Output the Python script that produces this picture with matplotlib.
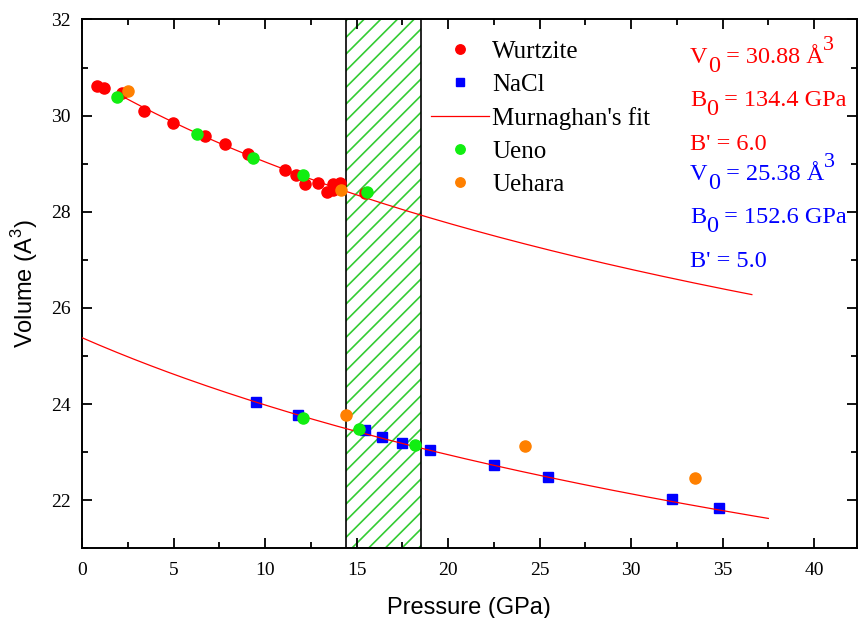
import numpy as np
import matplotlib
matplotlib.use("Agg")
import matplotlib.pyplot as plt

plt.rcParams['font.family'] = ['Liberation Serif', 'DejaVu Serif']
plt.rcParams['mathtext.fontset'] = 'custom'
plt.rcParams['mathtext.rm'] = 'Liberation Sans'
plt.rcParams['hatch.linewidth'] = 1.2

# DATOS
wz_p = [0.80, 1.22, 2.17, 3.40, 4.99, 6.72, 7.81, 9.09, 11.09, 11.68, 12.19,
        12.92, 13.37, 13.73, 13.70, 14.10, 15.46]
wz_v = [30.62, 30.58, 30.48, 30.10, 29.85, 29.58, 29.40, 29.20, 28.87, 28.76, 28.58,
        28.60, 28.42, 28.57, 28.45, 28.59, 28.38]

nacl_p = [9.51, 11.79, 15.46, 16.38, 17.47, 19.02, 22.53, 25.44, 32.24, 34.79]
nacl_v = [24.05, 23.77, 23.46, 23.32, 23.19, 23.04, 22.73, 22.49, 22.03, 21.83]

ueno_p = [1.93, 6.27, 9.33, 12.09, 15.56, 12.05, 15.14, 18.20]
ueno_v = [30.39, 29.62, 29.11, 28.77, 28.41, 23.72, 23.49, 23.15]

uehara_p = [2.50, 14.15, 14.43, 24.19, 33.51]
uehara_v = [30.52, 28.46, 23.77, 23.12, 22.46]

# Parametros de Murnaghan (V0, B0, B')
WZ_FIT = (30.88, 134.4, 6.0)
NACL_FIT = (25.38, 152.6, 5.0)
WZ_RANGE = (1.9, 36.6)
NACL_RANGE = (0.0, 37.5)

# Zona de transicion
TRANSITION = (14.4, 18.5)

# Colores
RED = "#ff0000"
BLUE = "#0000ff"
GREEN = "#11ee11"
ORANGE = "#ff8000"
HATCH_GREEN = "#33cc33"


def murnaghan(p, v0, b0, bp):
    return v0 * (1 + bp * p / b0) ** (-1.0 / bp)


def chained_text(ax, pieces, x, y, color):
    # cada pieza: (texto, desplazamiento vertical en puntos, tamaño)
    s, dy, fs = pieces[0]
    prev = ax.text(x, y, s, transform=ax.transAxes, color=color,
                   fontsize=fs, va='baseline', ha='left')
    for s, dy, fs in pieces[1:]:
        prev = ax.annotate(s, xy=(1, y), xycoords=(prev, 'axes fraction'),
                           xytext=(0, dy), textcoords='offset points',
                           color=color, fontsize=fs, va='baseline', ha='left')


fig = plt.figure(figsize=(8.58, 6.18), dpi=100)
ax = fig.add_axes([0.0956, 0.1128, 0.9029, 0.8557])

# zona rayada
ax.axvspan(*TRANSITION, facecolor='none', edgecolor=HATCH_GREEN, hatch='//',
           linewidth=0, zorder=1)
ax.axvspan(*TRANSITION, facecolor='none', edgecolor='black', linewidth=1.2, zorder=1.1)

ax.plot(wz_p, wz_v, 'o', color=RED, markersize=8, label='Wurtzite', zorder=3)
ax.plot(nacl_p, nacl_v, 's', color=BLUE, markersize=7.5, label='NaCl', zorder=3)

p_wz = np.linspace(*WZ_RANGE, 200)
p_nacl = np.linspace(*NACL_RANGE, 200)
ax.plot(p_wz, murnaghan(p_wz, *WZ_FIT), '-', color=RED, linewidth=0.9,
        label="Murnaghan's fit", zorder=3.5)
ax.plot(p_nacl, murnaghan(p_nacl, *NACL_FIT), '-', color=RED, linewidth=0.9, zorder=3.5)

ax.plot(ueno_p, ueno_v, 'o', color=GREEN, markersize=8, label='Ueno', zorder=4)
ax.plot(uehara_p, uehara_v, 'o', color=ORANGE, markersize=8, label='Uehara', zorder=4)

# ejes
ax.set_xlim(0, 42.33)
ax.set_ylim(21, 32)
ax.set_xticks(np.arange(0, 41, 5))
ax.set_xticks(np.arange(0, 42.4, 2.5), minor=True)
ax.set_yticks(np.arange(22, 33, 2))
ax.set_yticks(np.arange(21, 33, 1), minor=True)
ax.tick_params(which='both', direction='in', top=True, right=True, width=1.3,
               labelsize=14)
ax.tick_params(which='major', length=7, pad=8)
ax.tick_params(axis='x', which='major', pad=10)
ax.tick_params(which='minor', length=4)
for sp in ax.spines.values():
    sp.set_linewidth(1.4)

ax.set_xlabel("Pressure (GPa)", family='Liberation Sans', fontsize=17, labelpad=13)
ax.set_ylabel(r"Volume (A$^3$)", family='Liberation Sans', fontsize=17, labelpad=8)

ax.legend(loc='upper left', bbox_to_anchor=(0.4505, 0.96), frameon=False,
          borderpad=0, borderaxespad=0, handlelength=2.3, handletextpad=0.15,
          labelspacing=0.42, fontsize=18, markerscale=0.85)

# parametros del ajuste
FS = 17.5
tx = 0.785
chained_text(ax, [("V", 0, FS), ("0", -6.5, FS), (" = 30.88 Å", 0, FS), ("3", 9.4, 16)],
             tx, 0.918, RED)
chained_text(ax, [("B", 0, FS), ("0", -6.5, FS), (" = 134.4 GPa", 0, FS)],
             tx, 0.836, RED)
chained_text(ax, [("B' = 6.0", 0, FS)], tx, 0.753, RED)
chained_text(ax, [("V", 0, FS), ("0", -6.5, FS), (" = 25.38 Å", 0, FS), ("3", 9.4, 16)],
             tx, 0.6965, BLUE)
chained_text(ax, [("B", 0, FS), ("0", -6.5, FS), (" = 152.6 GPa", 0, FS)],
             tx, 0.615, BLUE)
chained_text(ax, [("B' = 5.0", 0, FS)], tx, 0.532, BLUE)

fig.savefig("out.png", dpi=100)
